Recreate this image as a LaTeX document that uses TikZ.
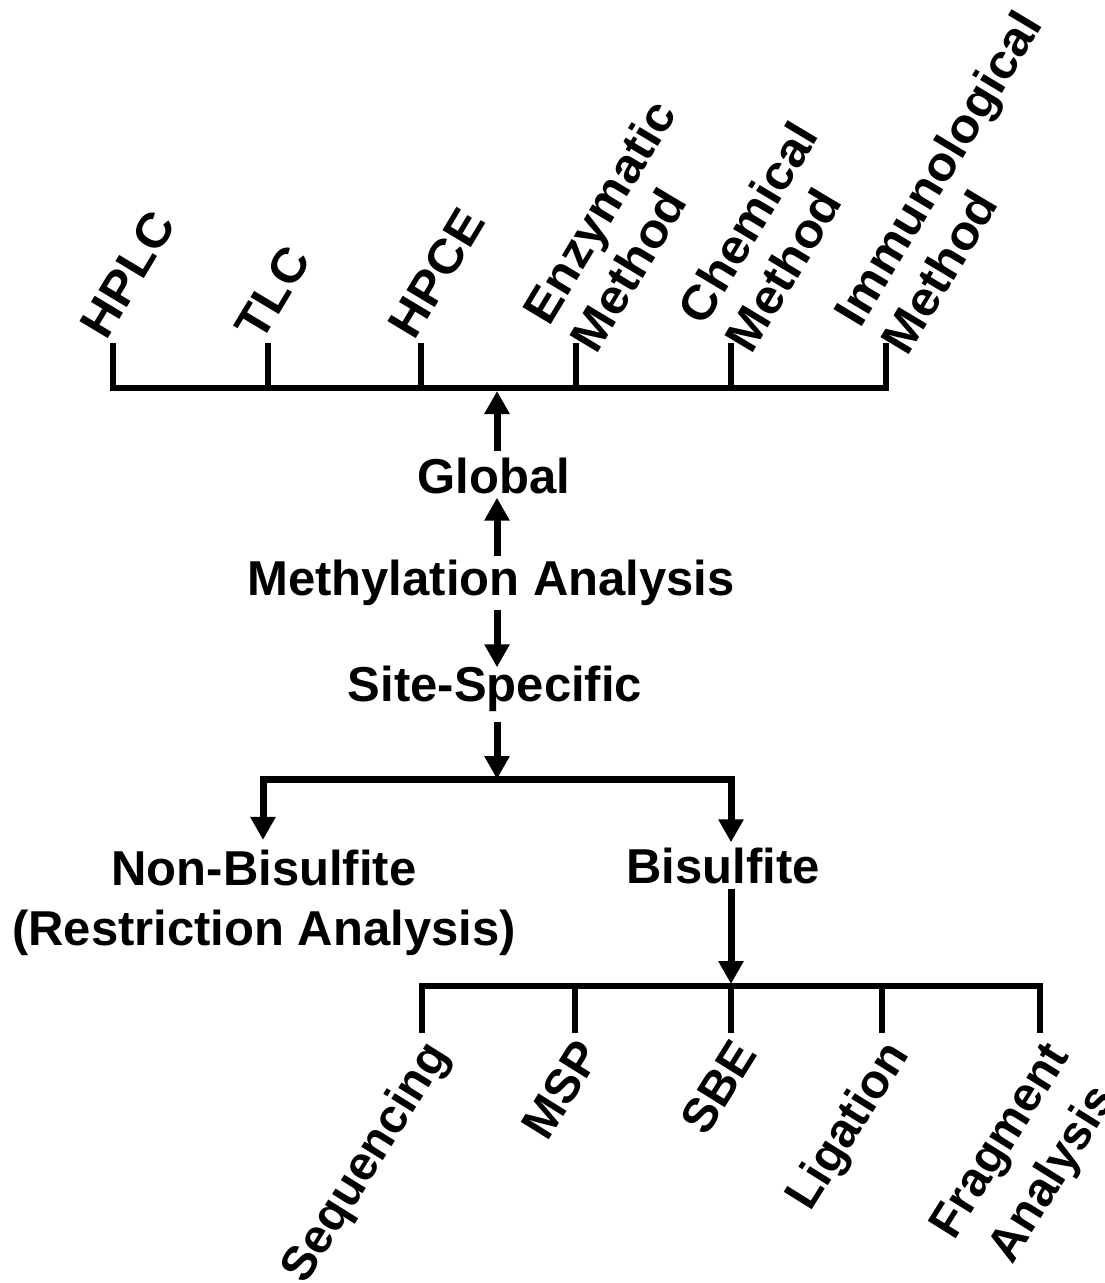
\documentclass[tikz,border=0pt]{standalone}
\usepackage{fontspec}
\setmainfont{Liberation Sans}
\usetikzlibrary{arrows.meta}
\begin{document}
\begin{tikzpicture}[x=1pt,y=-1pt,
  lbl/.style={font=\fontsize{49}{56}\selectfont\bfseries, inner sep=0pt},
  toplbl/.style={font=\fontsize{48}{55}\selectfont\bfseries, inner sep=0pt, rotate=59, xscale=1.05, anchor=south west, align=left},
  botlbl/.style={font=\fontsize{48}{62}\selectfont\bfseries, inner sep=0pt, rotate=58, anchor=north east, align=center},
  bar/.style={line width=5.5pt, line join=miter},
  arr/.style={line width=7pt, -{Triangle[width=24pt,length=23pt]}},
  arrboth/.style={line width=7pt, line join=miter, {Triangle[width=24pt,length=23pt]}-{Triangle[width=24pt,length=23pt]}}]
\useasboundingbox (0,0) rectangle (1104,1283);

% top bar with ticks
\draw[bar] (113,343) -- (113,388) -- (886,388) -- (886,343);
\foreach \x in {268,421,576,731} \draw[bar] (\x,343) -- (\x,388);
\coordinate (topmid) at (497,391);

% top labels
\node[toplbl] (hplc) at (107,342) {HPLC};
\node[toplbl] (tlc) at (262,344) {TLC};
\node[toplbl] (hpce) at (415,342) {HPCE};
\node[toplbl] (enz) at (597,356) {Enzymatic\\Method};
\node[toplbl] (chem) at (752,356) {Chemical\\Method};
\node[toplbl] (immu) at (908,358) {Immunological\\Method};

% central column
\node[lbl, anchor=base] (global) at (494,493) {Global};
\node[lbl, anchor=base] (meth) at (491,595) {Methylation Analysis};
\node[lbl, anchor=base] (site) at (495,701) {Site-Specific};
\coordinate (brmid) at (497,779);

\draw[arr] ([xshift=3pt,yshift=6pt]global.north) -- (topmid);
\draw[arr] ([xshift=6pt,yshift=3pt]meth.north) -- ([xshift=3pt,yshift=-4pt]global.south);
\draw[arr] ([xshift=6pt,yshift=-5pt]meth.south) -- ([xshift=2pt,yshift=-2pt]site.north);
\draw[arr] ([xshift=2pt,yshift=-11pt]site.south) -- (brmid);

% branches
\node[lbl, align=center, font=\fontsize{49}{60}\selectfont\bfseries] (nonbis) at (264,903) {Non-Bisulfite\\(Restriction Analysis)};
\node[lbl, anchor=base] (bis) at (723,883) {Bisulfite};
\draw[arrboth] ([xshift=-1pt,yshift=10pt]nonbis.north) |- (brmid) -| ([xshift=8pt,yshift=5pt]bis.north);

% bottom bar with ticks
\coordinate (botmid) at (731,984);
\draw[arr] ([xshift=8pt,yshift=-5pt]bis.south) -- (botmid);
\draw[bar] (422,1033) -- (422,986) -- (1040,986) -- (1040,1033);
\foreach \x in {575,731,882} \draw[bar] (\x,986) -- (\x,1033);

% bottom labels
\node[botlbl] (seq) at (420,1036) {Sequencing};
\node[botlbl] (msp) at (574,1036) {MSP};
\node[botlbl] (sbe) at (730,1036) {SBE};
\node[botlbl] (lig) at (880,1036) {Ligation};
\node[botlbl] (frag) at (1042,1038) {Fragment\\Analysis};
\end{tikzpicture}
\end{document}
